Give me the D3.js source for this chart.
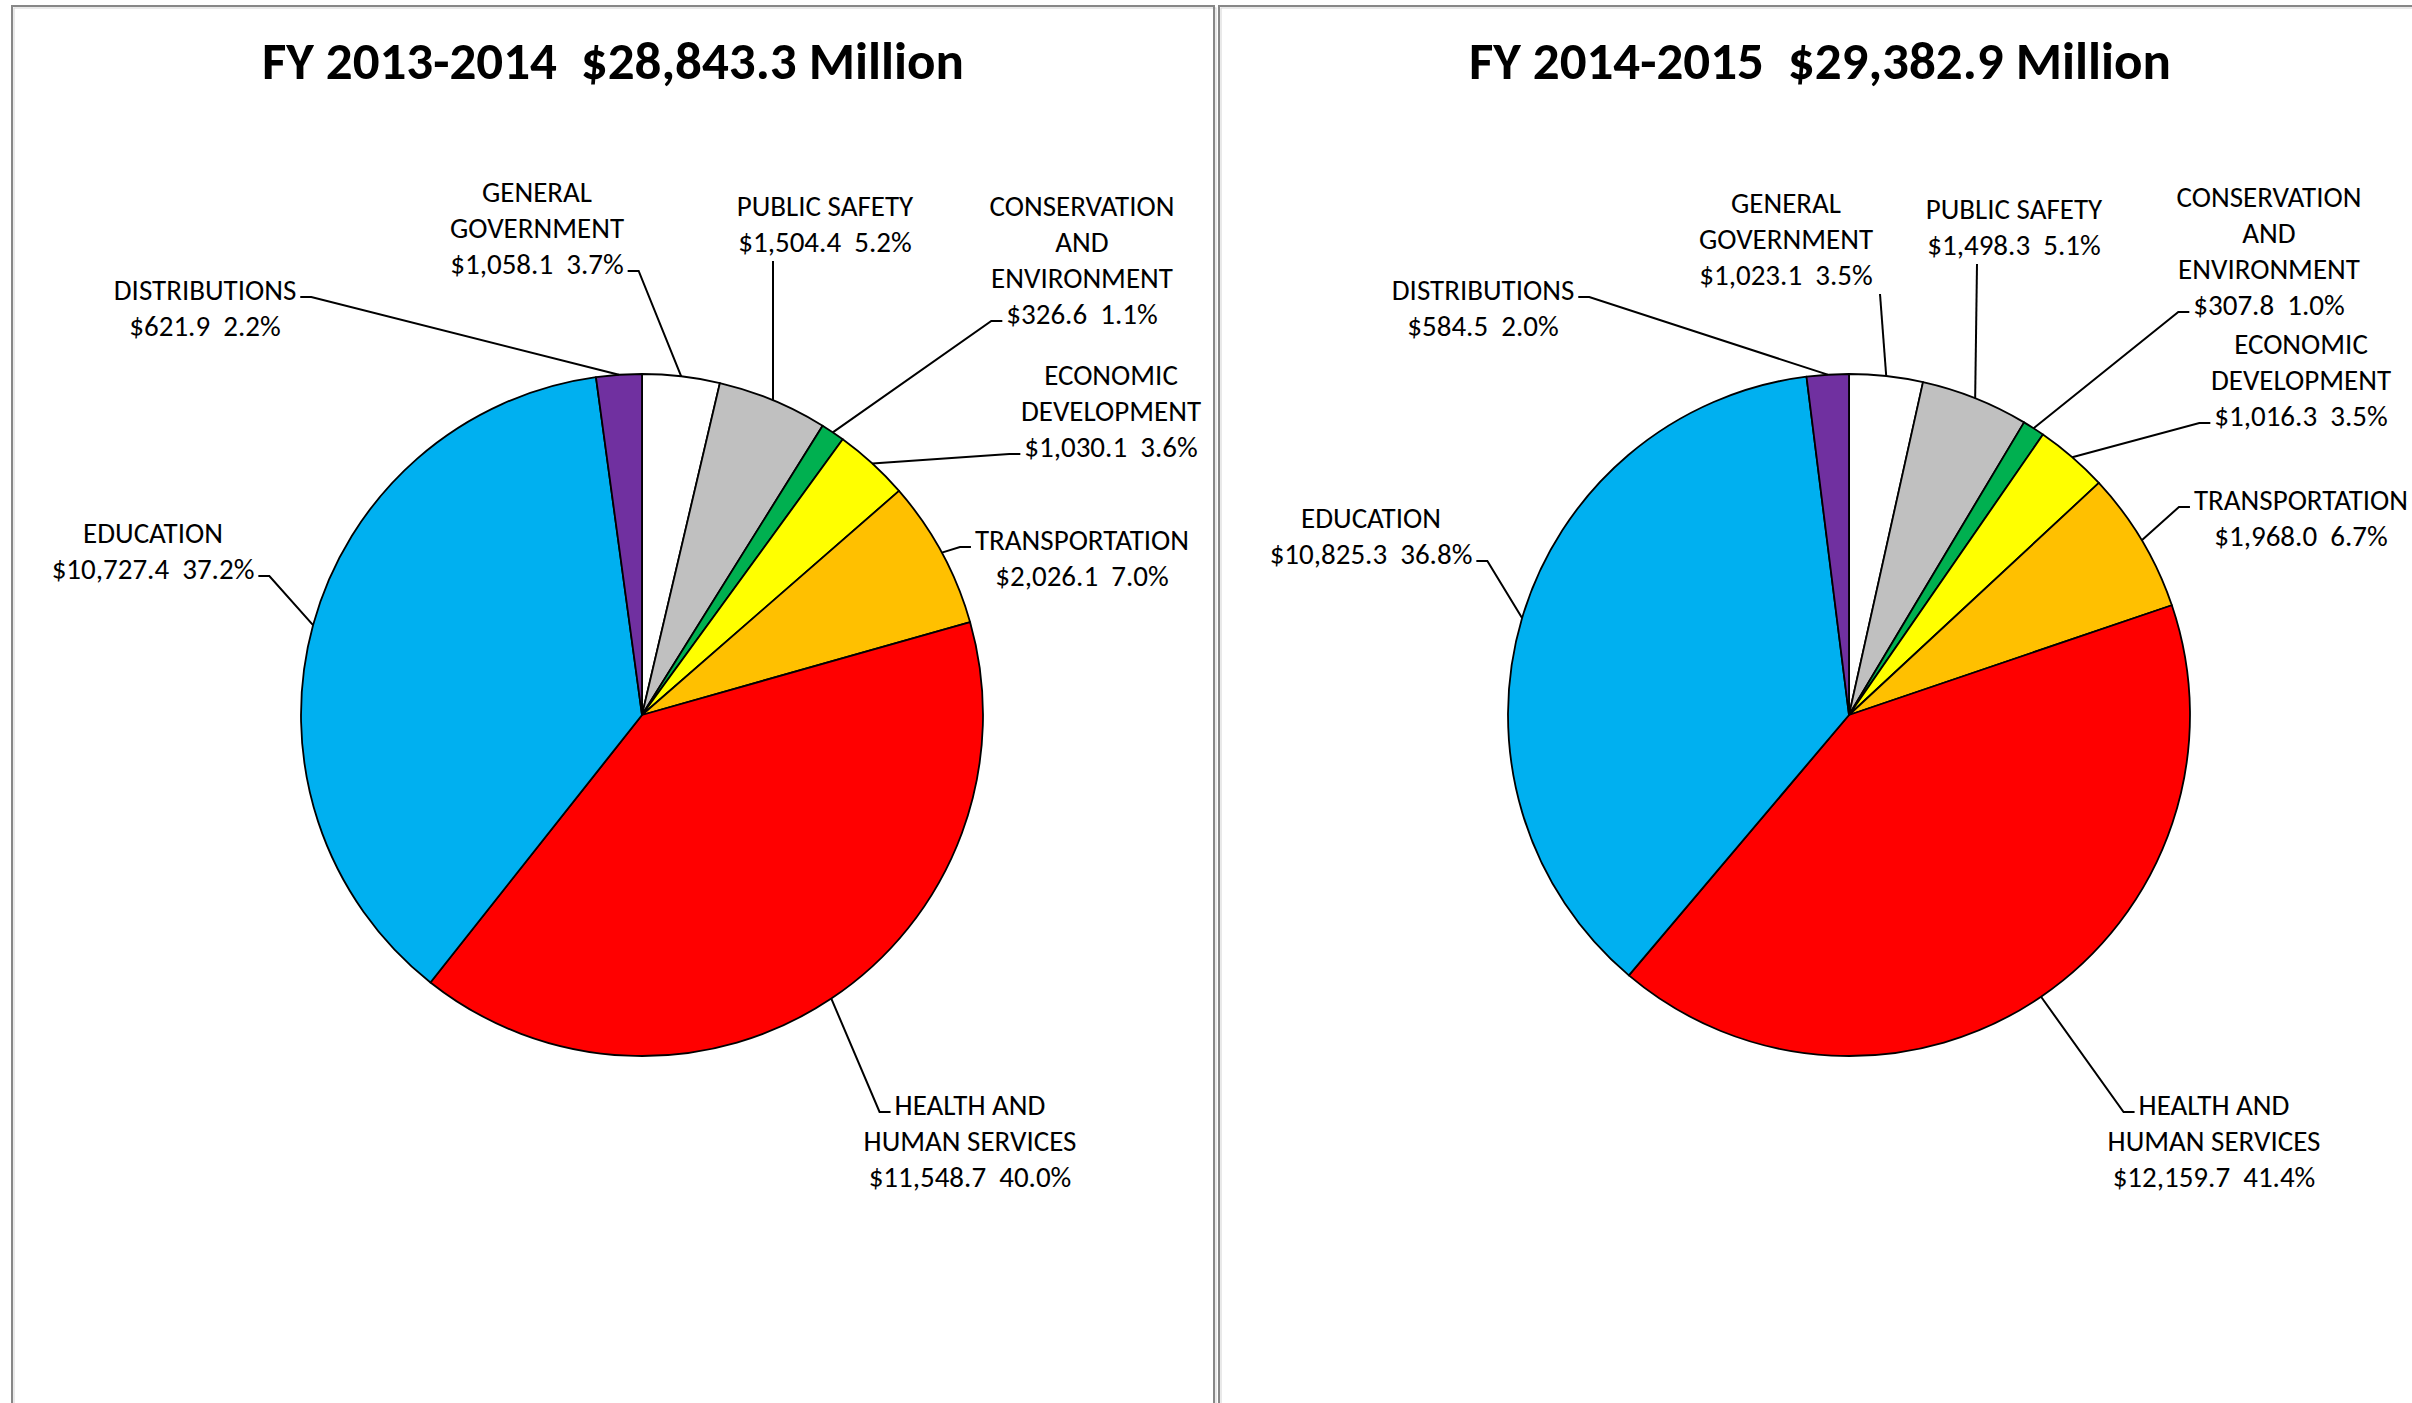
<!DOCTYPE html>
<html>
<head>
<meta charset="utf-8">
<script src="https://cdn.jsdelivr.net/npm/d3@7"></script>
<style>
  html, body { margin: 0; padding: 0; background: #fff; }
  svg { display: block; }
</style>
</head>
<body>
<div id="chart-area"></div>
<script>
// DATA
const CATEGORIES = ['GENERAL GOVERNMENT', 'PUBLIC SAFETY', 'CONSERVATION AND ENVIRONMENT',
  'ECONOMIC DEVELOPMENT', 'TRANSPORTATION', 'HEALTH AND HUMAN SERVICES', 'EDUCATION', 'DISTRIBUTIONS']
const LABEL_LINES = [['GENERAL', 'GOVERNMENT'], ['PUBLIC SAFETY'], ['CONSERVATION', 'AND', 'ENVIRONMENT'],
  ['ECONOMIC', 'DEVELOPMENT'], ['TRANSPORTATION'], ['HEALTH AND', 'HUMAN SERVICES'], ['EDUCATION'], ['DISTRIBUTIONS']]
const VALUES_2014 = [1058.1, 1504.4, 326.6, 1030.1, 2026.1, 11548.7, 10727.4, 621.9]
const VALUES_2015 = [1023.1, 1498.3, 307.8, 1016.3, 1968.0, 12159.7, 10825.3, 584.5]
const YEARS = ['FY 2013-2014', 'FY 2014-2015']
const TOTALS = ['$28,843.3 Million', '$29,382.9 Million']
const COLORS = ['#FFFFFF', '#C0C0C0', '#00B050', '#FFFF00', '#FFC000', '#FF0000', '#00B0F0', '#7030A0']

// LAYOUT
const WIDTH = 2412
const HEIGHT = 1403
const PANEL = { X: [12, 1219], TOP: 6, WIDTH: 1202 }
const PIE = { DX: 630, CY: 715, R: 341 }
const FONT = 'Carlito, Calibri, Lato, sans-serif'
const LABEL_SIZE = 29
const LINE_H = 36
const STUB = 11

// label placement relative to pie centre (tx, ty = first baseline)
// side: 'end' / 'start' attaches leader at that end of line `line`, 'below' drops from (lx, under text)
const LAYOUTS = [
  [
    { tx: -105, ty: -513, side: 'end', line: 2 },
    { tx: 183, ty: -499, side: 'below', lx: 131 },
    { tx: 440, ty: -499, side: 'start', line: 3 },
    { tx: 469, ty: -330, side: 'start', line: 2 },
    { tx: 440, ty: -165, side: 'start', line: 0 },
    { tx: 328, ty: 400, side: 'start', line: 0 },
    { tx: -489, ty: -172, side: 'end', line: 1 },
    { tx: -437, ty: -415, side: 'end', line: 0 }
  ],
  [
    { tx: -63, ty: -502, side: 'below', lx: 31 },
    { tx: 165, ty: -496, side: 'below', lx: 128 },
    { tx: 420, ty: -508, side: 'start', line: 3 },
    { tx: 452, ty: -361, side: 'start', line: 2 },
    { tx: 452, ty: -205, side: 'start', line: 0 },
    { tx: 365, ty: 400, side: 'start', line: 0 },
    { tx: -478, ty: -187, side: 'end', line: 1 },
    { tx: -366, ty: -415, side: 'end', line: 0 }
  ]
]

const svg = d3.select('#chart-area').append('svg')
  .attr('width', WIDTH)
  .attr('height', HEIGHT)

const fmt = d3.format(',.1f')
const pie = d3.pie().sort(null).value(d => d)
const arc = d3.arc().innerRadius(0).outerRadius(PIE.R)
const edge = d3.arc().innerRadius(PIE.R).outerRadius(PIE.R)

function drawPanel(i, values) {
  const g = svg.append('g')
    .attr('transform', `translate(${PANEL.X[i]}, ${PANEL.TOP})`)

  // frame
  g.append('rect')
    .attr('x', 2).attr('y', 2)
    .attr('width', PANEL.WIDTH).attr('height', HEIGHT + 50)
    .attr('fill', 'none')
    .attr('stroke', '#d4d4d4')
    .attr('stroke-width', 1)
  g.append('rect')
    .attr('x', 0).attr('y', 0)
    .attr('width', PANEL.WIDTH).attr('height', HEIGHT + 50)
    .attr('fill', 'none')
    .attr('stroke', '#878787')
    .attr('stroke-width', 2)

  // title
  g.append('text')
    .attr('x', PANEL.WIDTH / 2)
    .attr('y', 73)
    .attr('text-anchor', 'middle')
    .attr('font-family', FONT)
    .attr('font-weight', 'bold')
    .attr('font-size', '53px')
    .style('white-space', 'pre')
    .text(`${YEARS[i]}  ${TOTALS[i]}`)

  const pg = g.append('g')
    .attr('transform', `translate(${PIE.DX}, ${PIE.CY - PANEL.TOP})`)

  const arcs = pie(values)
  const total = d3.sum(values)

  pg.selectAll('path.slice')
    .data(arcs)
    .enter().append('path')
    .attr('class', 'slice')
    .attr('d', arc)
    .attr('fill', (d, k) => COLORS[k])
    .attr('stroke', '#000')
    .attr('stroke-width', 1.8)
    .attr('stroke-linejoin', 'round')

  // LABELS
  const layout = LAYOUTS[i]
  arcs.forEach((a, k) => {
    const L = layout[k]
    const lines = LABEL_LINES[k].concat(`$${fmt(values[k])}  ${(values[k] / total * 100).toFixed(1)}%`)
    const text = pg.append('text')
      .attr('text-anchor', 'middle')
      .attr('font-family', FONT)
      .attr('font-size', LABEL_SIZE + 'px')
      .attr('fill', '#000')
      .style('white-space', 'pre')
    const spans = lines.map((s, j) => text.append('tspan')
      .attr('x', L.tx)
      .attr('y', L.ty + j * LINE_H)
      .text(s))

    const [ax, ay] = edge.centroid(a)
    let pts
    if (L.side === 'below') {
      pts = [[L.lx, L.ty + (lines.length - 1) * LINE_H + 9], [ax, ay]]
    } else {
      const w = spans[L.line].node().getComputedTextLength()
      const y = L.ty + L.line * LINE_H - 3
      const dir = L.side === 'end' ? 1 : -1
      const x0 = L.tx + dir * (w / 2 + 4)
      pts = [[x0, y], [x0 + dir * STUB, y], [ax, ay]]
    }
    pg.append('path')
      .attr('d', d3.line()(pts))
      .attr('fill', 'none')
      .attr('stroke', '#000')
      .attr('stroke-width', 2)
  })
}

drawPanel(0, VALUES_2014)
drawPanel(1, VALUES_2015)
</script>
</body>
</html>
